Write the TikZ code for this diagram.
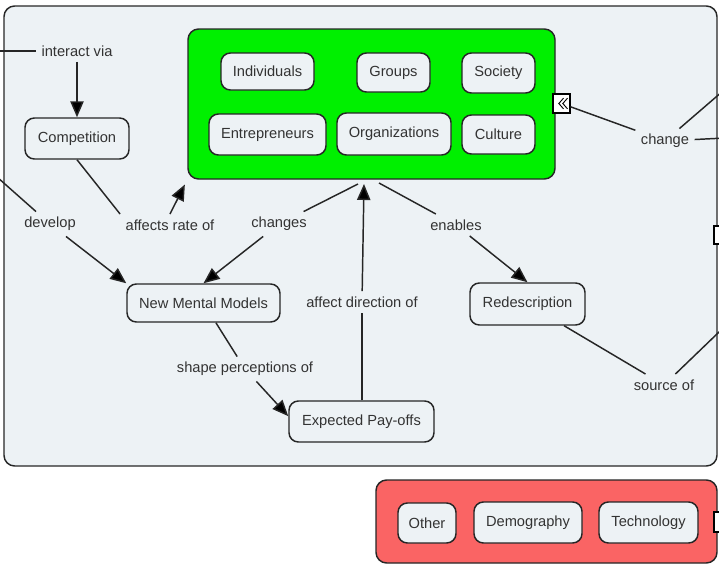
\documentclass[tikz,border=0pt]{standalone}
\usepackage{fontspec}
\setmainfont{Liberation Sans}
\usetikzlibrary{arrows.meta}
\definecolor{panel}{HTML}{EDF2F5}
\definecolor{leaf}{HTML}{00F000}
\definecolor{coral}{HTML}{FA6464}
\definecolor{ink}{HTML}{333333}
\definecolor{rim}{HTML}{262626}
\begin{document}
\begin{tikzpicture}[x=0.75pt,y=-0.75pt,
  txt/.style={font=\fontsize{11}{13}\selectfont, text=ink},
  group/.style={draw=rim, line width=1.1pt, rounded corners=8pt, inner sep=0pt},
  concept/.style={txt, draw=rim, line width=1.1pt, rounded corners=7pt, fill=panel, inner sep=0pt},
  linkword/.style={txt, inner sep=4pt},
  link/.style={draw=rim, line width=1.1pt},
  arr/.style={link, -{Triangle[length=12pt,width=10pt,fill=black]}},
  tab/.style={draw=black, fill=white, line width=0.8pt, inner sep=0pt},
]
\useasboundingbox (0,0) rectangle (719,565);
\clip (0,0) rectangle (719,565);

% containers
\node[group, fill=panel, minimum width=534.75pt, minimum height=345pt] (main) at (360.5,236) {};
\node[group, fill=leaf, minimum width=275.25pt, minimum height=112.5pt] (grp) at (371.5,104) {};
\node[group, fill=coral, minimum width=255.75pt, minimum height=62.25pt] (ext) at (546.5,521.5) {};

% concepts inside the green group
\node[concept, minimum width=69.75pt, minimum height=27.75pt] (indiv) at (267.5,71.5) {Individuals};
\node[concept, minimum width=54.75pt, minimum height=29.25pt] (groups) at (393.5,72.5) {Groups};
\node[concept, minimum width=54.75pt, minimum height=30pt] (society) at (498.5,73) {Society};
\node[concept, minimum width=87.75pt, minimum height=30.75pt] (entre) at (267.5,134.5) {Entrepreneurs};
\node[concept, minimum width=85.5pt, minimum height=31.5pt] (orgs) at (394,134) {Organizations};
\node[concept, minimum width=54.75pt, minimum height=29.25pt] (culture) at (498.5,134.5) {Culture};

% concepts inside the red group
\node[concept, minimum width=43.5pt, minimum height=30pt] (other) at (427,523) {Other};
\node[concept, minimum width=81pt, minimum height=30.75pt] (demo) at (528,522.5) {Demography};
\node[concept, minimum width=74.25pt, minimum height=30.75pt] (tech) at (648.5,522.5) {Technology};

% free concepts
\node[concept, minimum width=78pt, minimum height=30.75pt] (comp) at (77,138.5) {Competition};
\node[concept, minimum width=114.75pt, minimum height=28.5pt] (nmm) at (203.5,303) {New Mental Models};
\node[concept, minimum width=86.25pt, minimum height=31.5pt] (redesc) at (527.5,304) {Redescription};
\node[concept, minimum width=108.75pt, minimum height=30.75pt] (payoff) at (361.5,421.5) {Expected Pay-offs};

% fold / expand tabs
\node[tab, minimum width=12.75pt, minimum height=14.25pt] (fold) at (561.5,103.5) {};
\draw[line width=0.7pt, line join=miter] ([xshift=1.5pt,yshift=4pt]fold.center) -- ([xshift=-2pt]fold.center) -- ([xshift=1.5pt,yshift=-4pt]fold.center)
  ([xshift=4.5pt,yshift=4pt]fold.center) -- ([xshift=1pt]fold.center) -- ([xshift=4.5pt,yshift=-4pt]fold.center);
\node[tab, minimum width=9pt, minimum height=13.5pt] (tabA) at (720,235) {};
\node[tab, minimum width=9pt, minimum height=15pt] (tabB) at (720,522) {};

% linking phrases
\node[linkword] (interact) at (77,51) {interact via};
\node[linkword] (develop) at (50,224) {develop};
\node[linkword] (affrate) at (170,225) {affects rate of};
\node[linkword] (changes) at (279,224) {changes};
\node[linkword] (enables) at (456,225) {enables};
\node[linkword] (affdir) at (362,302) {affect direction of};
\node[linkword] (shape) at (245,369) {shape perceptions of};
\node[linkword] (source) at (664,385) {source of};
\node[linkword] (change) at (665,141) {change};

% loose ends leaving the view
\coordinate (inL) at (-10,51);
\coordinate (devL) at (-12,169);
\coordinate (chgA) at (745,72);
\coordinate (chgB) at (745,137);
\coordinate (srcR) at (745,307);
\coordinate (gA) at (358,184);
\coordinate (gB) at (364,184);
\coordinate (gC) at (379,183);

% connectors
\draw[link] (inL) -- (interact);
\draw[arr] (interact) -- (comp);
\draw[link] (devL) -- (develop);
\draw[arr] (develop) -- (nmm.north west);
\draw[link] (comp.south) -- (affrate.north west);
\draw[arr, shorten >=4pt] (affrate.north) -- (grp.south west);
\draw[link] (changes) -- (gA);
\draw[arr] (changes) -- (nmm.north);
\draw[link] (payoff.north -| affdir) -- (affdir);
\draw[arr] (affdir) -- (gB);
\draw[link] (enables) -- (gC);
\draw[arr] (enables) -- (redesc.north);
\draw[link] (redesc) -- (source);
\draw[link] (source) -- (srcR);
\draw[link] (nmm) -- (shape);
\draw[arr] (shape) -- ([yshift=4pt]payoff.west);
\draw[link] (fold) -- (change);
\draw[link] (change) -- (chgA);
\draw[link] (change) -- (chgB);
\end{tikzpicture}
\end{document}
